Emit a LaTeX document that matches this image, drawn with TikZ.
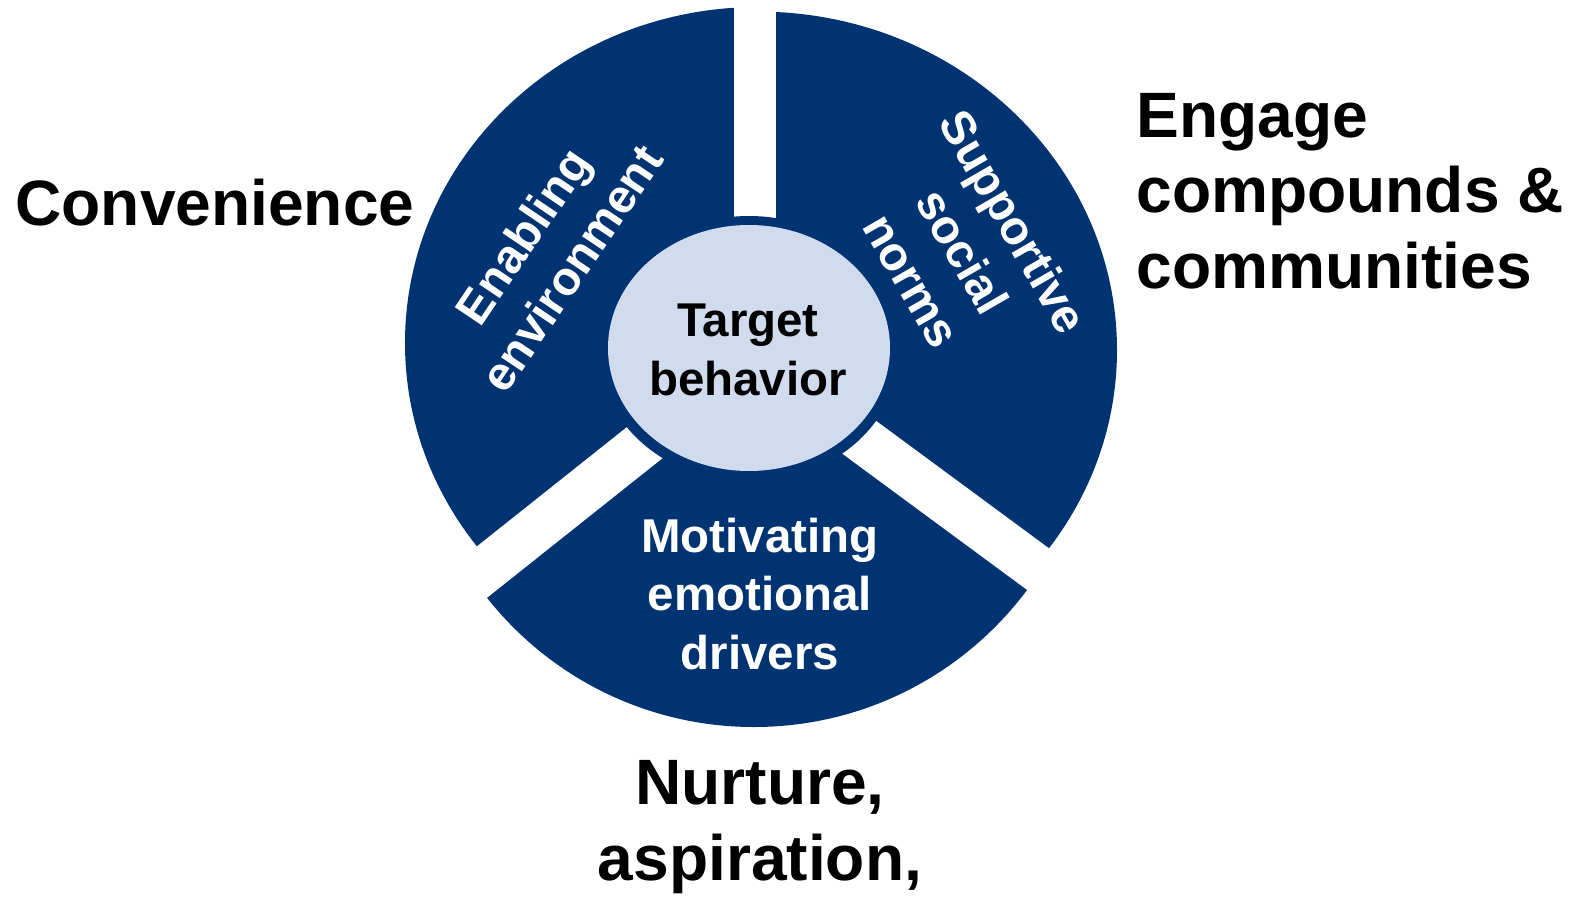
\documentclass[tikz,border=0pt]{standalone}
\usepackage{fontspec}
\setmainfont{Liberation Sans}
\usetikzlibrary{positioning}

\definecolor{navy}{RGB}{0,51,114}
\definecolor{paleblue}{RGB}{208,220,238}

\begin{document}
\begin{tikzpicture}[x=0.02cm, y=0.02cm,
    bigtext/.style={font=\fontsize{36.5}{42.7}\selectfont\bfseries, inner sep=0pt},
    midtext/.style={font=\fontsize{27}{33.4}\selectfont\bfseries, inner sep=0pt, align=center},
    sectortext/.style={midtext, text=white},
    gap/.style={white, line width=0.93cm}]
    \clip (-755,-539) rectangle (819,357);

    % the three sectors, each cut from its own slightly different disc
    \coordinate (hub) at (0,0);
    \begin{scope}
        \clip (hub) -- (90:600) -- (150:600) -- (218.5:600) -- cycle;
        \fill[navy] (3,14) ellipse (353 and 336);
    \end{scope}
    \begin{scope}
        \clip (hub) -- (323.6:600) -- (30:600) -- (90:600) -- cycle;
        \fill[navy] (3,7) ellipse (359 and 338.4);
    \end{scope}
    \begin{scope}
        \clip (hub) -- (218.5:600) -- (270:600) -- (323.6:600) -- cycle;
        \fill[navy] (-1,-29.5) circle (340.5);
    \end{scope}

    % white gaps between the sectors
    \coordinate (leftgap) at (-109.5,-85);
    \coordinate (rightgap) at (102.5,-79);
    \draw[gap, line width=0.86cm] (hub) -- ++(90:420);
    \draw[gap] (leftgap) ++(38.5:40) -- ++(218.5:360);
    \draw[gap] (rightgap) ++(143.6:40) -- ++(323.6:360);

    % centre: dark ring, then the pale disc
    \fill[navy] (-6,8) ellipse (151 and 133);
    \fill[paleblue] (-6,9) ellipse (141 and 123);
    \node[midtext] (target) at (-7,7) {Target\\behavior};

    % sector labels
    \node[sectortext, rotate=56] (enabling) at (-208,105) {Enabling\\environment};
    \node[sectortext, rotate=-60] (norms) at (208,106) {Supportive\\social\\norms};
    \node[sectortext] (drivers) at (5,-237) {Motivating\\emotional\\drivers};

    % outer labels
    \node[bigtext, anchor=base west] (conv) at (-740,132) {Convenience};
    \node[bigtext, align=left, anchor=base west] (engage) at (381,69) {Engage\\compounds \&\\communities};
    \node[bigtext, align=center, anchor=base] (nurture) at (5,-523) {Nurture,\\aspiration,};
\end{tikzpicture}
\end{document}
